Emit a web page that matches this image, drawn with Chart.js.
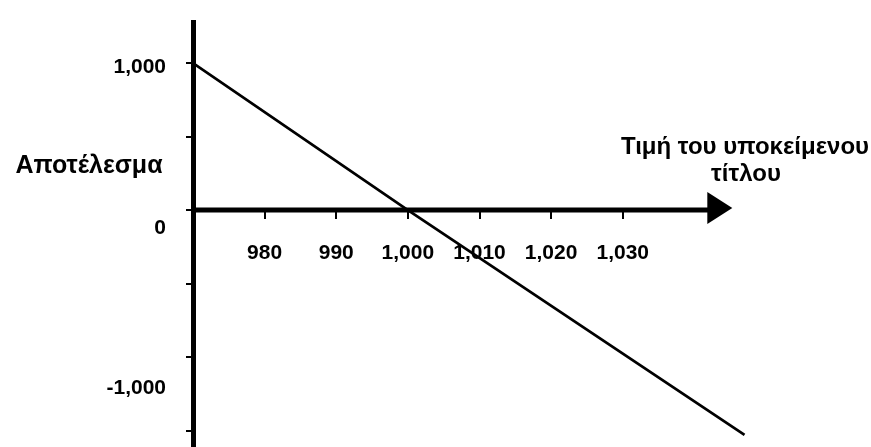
<!DOCTYPE html>
<html><head><meta charset="utf-8">
<script src="https://cdn.jsdelivr.net/npm/chart.js@4/dist/chart.umd.min.js"></script>
<style>html,body{margin:0;padding:0;background:#fff;}#wrap{width:871px;height:447px;}</style>
</head><body><div id="wrap"><canvas id="c" width="871" height="447"></canvas></div>
<script>
// ---- data ----
const prices = [970, 1000, 1047];
const results = [1000, 0, -1530];
const xTickValues = [980, 990, 1000, 1010, 1020, 1030];
const yTickMarks = [1000, 500, 0, -500, -1000, -1500];
const yTickLabels = [1000, 0, -1000];
const yAxisTitle = 'Αποτέλεσμα';
const xAxisTitle = ['Τιμή του υποκείμενου', 'τίτλου'];
const arrowEndValue = 1045.3;

const FONT = '"Liberation Sans", Arial, sans-serif';
const fmt = v => Number(v).toLocaleString('en-US');
const noPad = s => { s.paddingTop = 0; s.paddingBottom = 0; s.paddingLeft = 0; s.paddingRight = 0; };

const decor = {
  id: 'decor',
  afterDatasetsDraw(chart) {
    const {ctx, chartArea} = chart;
    const xs = chart.scales.x, ys = chart.scales.y;
    const y0 = ys.getPixelForValue(0);
    const tip = xs.getPixelForValue(arrowEndValue);
    const head = 25, half = 16;
    ctx.save();
    ctx.strokeStyle = '#000'; ctx.fillStyle = '#000';
    ctx.lineWidth = 5; ctx.lineCap = 'butt';
    ctx.beginPath(); ctx.moveTo(chartArea.left, y0); ctx.lineTo(tip - head + 2, y0); ctx.stroke();
    ctx.beginPath(); ctx.moveTo(tip, y0 - 2); ctx.lineTo(tip - head, y0 - half - 2); ctx.lineTo(tip - head, y0 + half - 2); ctx.closePath(); ctx.fill();
    ctx.restore();
  },
  afterDraw(chart) {
    const {ctx} = chart;
    ctx.save();
    ctx.fillStyle = '#000';
    ctx.textAlign = 'center'; ctx.textBaseline = 'middle';
    ctx.font = 'bold 25px ' + FONT;
    ctx.fillText(yAxisTitle, 89, 166);
    ctx.font = 'bold 24px ' + FONT;
    ctx.fillText(xAxisTitle[0], 745, 147);
    ctx.fillText(xAxisTitle[1], 746, 174);
    ctx.restore();
  }
};

new Chart(document.getElementById('c'), {
  type: 'scatter',
  data: {
    datasets: [{
      data: prices.map((p, i) => ({x: p, y: results[i]})),
      showLine: true, borderColor: '#000', borderWidth: 2.7,
      pointRadius: 0, pointHoverRadius: 0, fill: false, tension: 0
    }]
  },
  options: {
    responsive: false, animation: false, devicePixelRatio: 1,
    layout: {padding: {top: 22, right: 105, bottom: 0, left: 0}},
    plugins: {legend: {display: false}, tooltip: {enabled: false}},
    scales: {
      x: {
        type: 'linear', position: {y: 0}, min: 970, max: 1050,
        afterBuildTicks: s => { s.ticks = xTickValues.map(v => ({value: v})); },
        afterFit: noPad,
        grid: {drawOnChartArea: false, drawTicks: true, tickLength: 9, color: '#000', lineWidth: 2},
        border: {display: false},
        ticks: {padding: 22, color: '#000', maxRotation: 0, autoSkip: false,
                font: {family: FONT, size: 21, weight: 'bold'}, callback: v => fmt(v)}
      },
      y: {
        type: 'linear', position: 'left', min: -1612, max: 1279,
        afterBuildTicks: s => { s.ticks = yTickMarks.map(v => ({value: v})); },
        afterFit: s => { s.width = 7; noPad(s); },
        grid: {drawOnChartArea: false, drawTicks: true, tickLength: 7, color: '#000', lineWidth: 2},
        border: {display: true, width: 5, color: '#000'},
        ticks: {display: false}
      },
      y2: {
        type: 'linear', position: 'left', min: -1364, max: 1283,
        afterBuildTicks: s => { s.ticks = yTickLabels.map(v => ({value: v})); },
        afterFit: s => { s.width = 186; noPad(s); },
        grid: {display: false}, border: {display: false},
        ticks: {padding: 12, color: '#000', autoSkip: false,
                font: {family: FONT, size: 21, weight: 'bold'}, callback: v => fmt(v)}
      }
    }
  },
  plugins: [decor]
});
</script></body></html>
